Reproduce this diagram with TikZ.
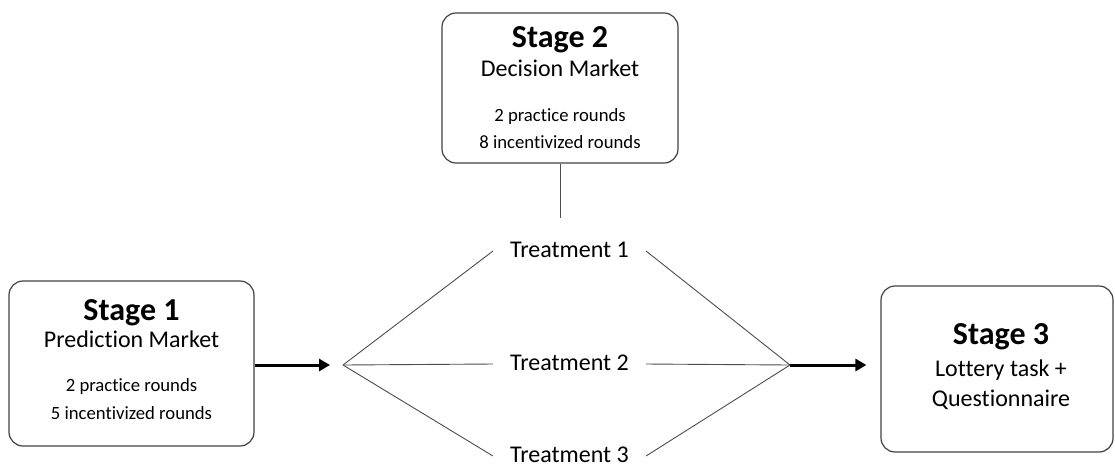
\documentclass[tikz,border=0pt]{standalone}
\usepackage{fontspec}
\setmainfont{Carlito}[Ligatures={NoCommon,NoContextual}]
\usetikzlibrary{arrows.meta,calc}
\begin{document}
\begin{tikzpicture}[x=1pt,y=-1pt,
  stagebox/.style={draw=black!75,line width=1.2pt,rounded corners=14pt,inner sep=0pt},
  ttl/.style={anchor=base,inner sep=0pt,font=\fontsize{32}{38}\selectfont\bfseries},
  sub/.style={anchor=base,inner sep=0pt,font=\fontsize{24}{29}\selectfont},
  small/.style={anchor=base,inner sep=0pt,font=\fontsize{18.7}{22}\selectfont},
  treat/.style={inner xsep=17pt,inner ysep=0pt,text height=12pt,text depth=0pt,font=\fontsize{24}{29}\selectfont},
  thin line/.style={draw=black!70,line width=0.9pt},
  big arrow/.style={draw=black,line width=3pt,-{Triangle[length=11pt,width=12pt]}}]
\useasboundingbox (0,0) rectangle (1115,467);
% boxes
\node[stagebox,minimum width=245pt,minimum height=165pt] (s1) at (131.5,363.5) {};
\node[stagebox,minimum width=236pt,minimum height=150pt] (s2) at (560,88) {};
\node[stagebox,minimum width=232pt,minimum height=166pt] (s3) at (997,369) {};
% texts stage 1
\node[ttl] (s1t) at (131.5,320) {Stage 1};
\node[sub] (s1s) at (131.5,347) {Prediction Market};
\node[small] (s1a) at (131.5,391) {2 practice rounds};
\node[small] (s1b) at (131.5,419) {5 incentivized rounds};
% texts stage 2
\node[ttl] (s2t) at (560,47) {Stage 2};
\node[sub] (s2s) at (560,76) {Decision Market};
\node[small] (s2a) at (560,121) {2 practice rounds};
\node[small] (s2b) at (560,148) {8 incentivized rounds};
% texts stage 3
\node[ttl] (s3t) at (1001,344) {Stage 3};
\node[sub] (s3s) at (1001,376) {Lottery task +};
\node[sub] (s3q) at (1001,406) {Questionnaire};
% treatments
\node[treat] (t1) at (569.5,251) {Treatment 1};
\node[treat] (t2) at (569.5,364) {Treatment 2};
\node[treat] (t3) at (569.5,456) {Treatment 3};
% fan points
\coordinate (L) at (343,365);
\coordinate (R) at (790,365);
\coordinate (c2) at (560,218);
% connectors
\draw[thin line] (s2.south) -- (c2);
\draw[thin line] (L) -- (t1.west);
\draw[thin line] (L) -- (t2.west);
\draw[thin line] (L) -- (t3.west);
\draw[thin line] (t1.east) -- (R);
\draw[thin line] (t2.east) -- (R);
\draw[thin line] (t3.east) -- (R);
\draw[big arrow,shorten >=13pt] (s1.east |- L) -- (L);
\draw[big arrow,shorten >=14pt] (R) -- (s3.west |- R);
\end{tikzpicture}
\end{document}
